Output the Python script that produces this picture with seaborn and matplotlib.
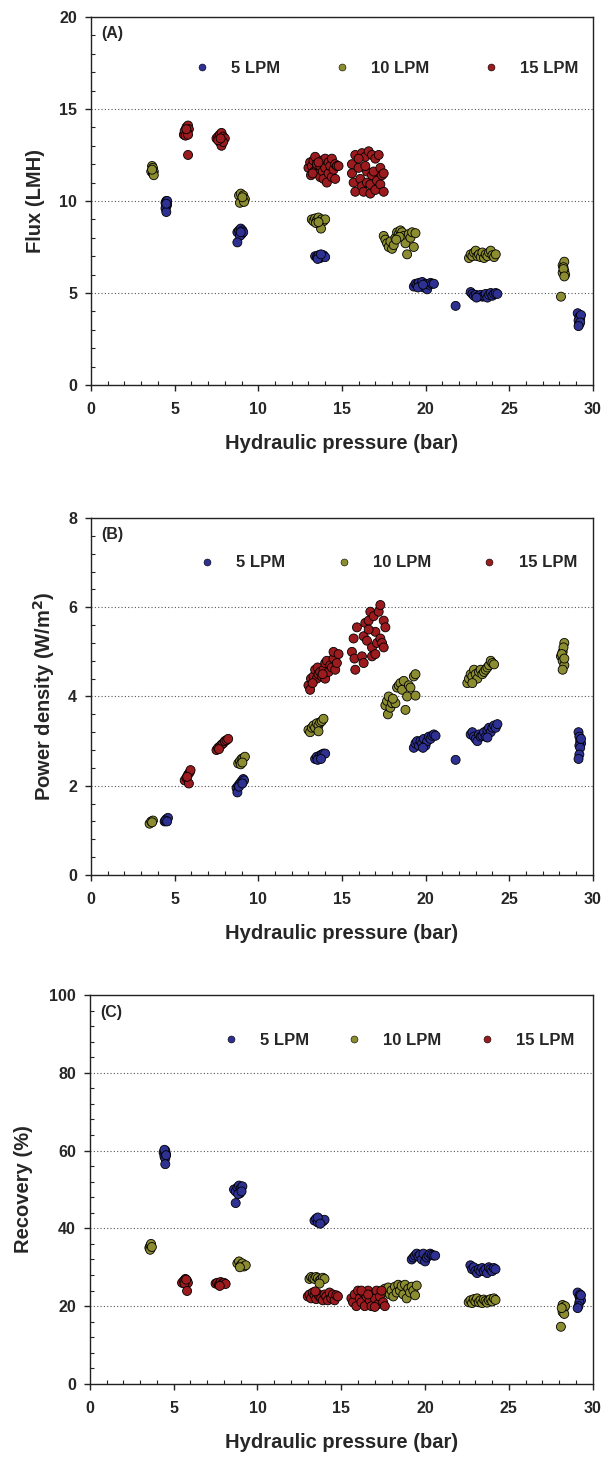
import matplotlib
matplotlib.use("Agg")
import matplotlib.pyplot as plt
import pandas as pd
import seaborn as sns
from matplotlib.ticker import MultipleLocator
from matplotlib.lines import Line2D

sns.set_style("ticks")
plt.rcParams["font.family"] = ["Liberation Sans", "DejaVu Sans"]
plt.rcParams["font.weight"] = "bold"

flow_labels = ["5 LPM", "10 LPM", "15 LPM"]
colors = ["#2E3192", "#8C8C30", "#9B1B1E"]

# ---------------- (A) Flux (LMH) vs hydraulic pressure ----------------
flux_5 = [(4.5, 10.0), (4.45, 9.9), (4.55, 9.8), (4.5, 9.7), (4.45, 9.6), (4.5, 9.4), (4.55, 10.0), (4.5, 9.85),
          (8.75, 8.3), (8.85, 8.4), (8.95, 8.5), (9.05, 8.4), (9.0, 8.2), (8.9, 8.1), (9.1, 8.3), (8.75, 7.75), (8.95, 8.3),
          (13.4, 7.0), (13.5, 6.95), (13.6, 7.05), (13.7, 6.9), (13.8, 7.0), (13.9, 7.05), (14.0, 6.95), (13.55, 6.85), (13.75, 7.1),
          (19.3, 5.35), (19.4, 5.5), (19.5, 5.45), (19.6, 5.55), (19.7, 5.4), (19.8, 5.6), (19.9, 5.3), (20.0, 5.5), (20.1, 5.2),
          (20.2, 5.45), (20.3, 5.55), (20.4, 5.5), (20.5, 5.5), (19.55, 5.3), (19.85, 5.45),
          (21.8, 4.3),
          (22.7, 5.05), (22.8, 4.95), (22.9, 4.85), (23.0, 4.9), (23.1, 4.8), (23.2, 4.85), (23.3, 4.9), (23.4, 4.8), (23.5, 4.85),
          (23.6, 4.95), (23.7, 4.75), (23.8, 4.9), (23.9, 5.0), (24.0, 4.85), (24.1, 4.95), (24.2, 5.0), (24.3, 4.95), (23.05, 4.75),
          (29.1, 3.9), (29.2, 3.7), (29.25, 3.6), (29.15, 3.5), (29.2, 3.3), (29.3, 3.8), (29.25, 3.4), (29.15, 3.2)]
flux_10 = [(3.65, 11.9), (3.7, 11.8), (3.75, 11.6), (3.6, 11.6), (3.7, 11.5), (3.75, 11.4), (3.65, 11.7),
           (8.85, 10.3), (8.95, 10.4), (9.1, 10.3), (9.2, 10.1), (9.0, 10.0), (8.9, 9.9), (9.15, 9.95), (9.05, 10.2),
           (13.2, 9.0), (13.3, 8.9), (13.4, 9.05), (13.5, 8.95), (13.6, 9.1), (13.7, 8.9), (13.8, 9.0), (13.9, 8.9), (14.0, 9.0),
           (13.75, 8.5), (13.45, 8.8), (13.6, 8.85),
           (17.5, 8.1), (17.6, 7.9), (17.7, 7.7), (17.8, 7.5), (17.9, 7.8), (18.0, 7.4), (18.1, 7.6), (18.2, 8.0), (18.3, 8.3),
           (18.4, 8.2), (18.5, 8.4), (18.6, 8.3), (18.7, 8.1), (18.8, 7.7), (18.9, 7.1), (19.0, 8.2), (19.1, 8.0), (19.2, 8.3),
           (19.3, 7.5), (19.4, 8.25), (18.45, 8.05), (18.25, 7.9),
           (22.6, 6.9), (22.7, 7.1), (22.8, 7.0), (22.9, 7.2), (23.0, 7.3), (23.1, 7.0), (23.2, 7.1), (23.3, 6.95), (23.4, 7.2),
           (23.5, 6.9), (23.6, 7.1), (23.7, 7.0), (23.8, 7.2), (23.9, 7.3), (24.0, 7.05), (24.1, 6.95), (24.2, 7.1),
           (28.2, 6.5), (28.3, 6.7), (28.25, 6.4), (28.3, 6.2), (28.2, 6.1), (28.35, 6.0), (28.25, 6.3), (28.3, 5.9), (28.1, 4.8)]
flux_15 = [(5.55, 13.6), (5.6, 13.8), (5.7, 14.0), (5.8, 14.1), (5.85, 13.9), (5.75, 13.7), (5.65, 13.55), (5.8, 13.6), (5.7, 13.9), (5.8, 12.5),
           (7.5, 13.4), (7.6, 13.5), (7.7, 13.6), (7.8, 13.7), (7.9, 13.5), (8.0, 13.4), (7.7, 13.2), (7.8, 13.0), (7.9, 13.2), (7.6, 13.3), (7.75, 13.4),
           (13.0, 11.8), (13.1, 12.1), (13.15, 11.4), (13.2, 11.9), (13.3, 12.2), (13.35, 11.6), (13.4, 12.4), (13.5, 11.8), (13.5, 12.0),
           (13.6, 11.5), (13.7, 11.3), (13.7, 11.9), (13.8, 12.2), (13.85, 11.6), (13.9, 11.2), (14.0, 11.8), (14.0, 12.3), (14.1, 11.0),
           (14.2, 11.5), (14.2, 12.1), (14.3, 11.9), (14.4, 11.3), (14.4, 12.3), (14.5, 11.7), (14.6, 12.0), (14.6, 11.2), (14.7, 11.9),
           (14.8, 11.9), (13.25, 11.5), (13.6, 12.1),
           (15.6, 12.0), (15.6, 11.5), (15.7, 11.0), (15.8, 12.5), (15.8, 10.5), (16.0, 11.8), (16.1, 11.2), (16.2, 12.6), (16.2, 10.8),
           (16.3, 10.5), (16.4, 12.4), (16.5, 11.6), (16.5, 11.0), (16.6, 12.7), (16.7, 10.4), (16.7, 10.9), (16.8, 12.5), (16.8, 11.4),
           (16.9, 11.6), (17.0, 12.3), (17.0, 10.6), (17.1, 11.1), (17.2, 12.5), (17.3, 11.8), (17.3, 10.9), (17.4, 11.4), (17.5, 10.5),
           (17.5, 11.5), (16.0, 12.3), (16.4, 11.9)]

# ---------------- (B) Power density (W/m2) ----------------
power_5 = [(4.4, 1.2), (4.5, 1.25), (4.6, 1.28), (4.45, 1.22), (4.55, 1.2),
           (8.7, 1.95), (8.75, 1.85), (8.8, 2.0), (8.9, 2.05), (9.0, 2.1), (9.1, 2.15), (9.15, 2.12), (8.85, 1.98), (9.05, 2.05),
           (13.4, 2.6), (13.5, 2.65), (13.6, 2.62), (13.7, 2.68), (13.8, 2.7), (13.9, 2.72), (14.0, 2.72), (13.55, 2.58), (13.75, 2.6),
           (19.3, 2.85), (19.4, 2.95), (19.5, 3.0), (19.6, 2.9), (19.7, 3.0), (19.8, 2.95), (19.9, 3.05), (20.0, 2.9), (20.1, 3.0),
           (20.2, 3.1), (20.3, 3.05), (20.4, 3.12), (20.5, 3.15), (20.6, 3.12), (19.85, 2.85),
           (21.8, 2.58),
           (22.7, 3.15), (22.8, 3.2), (22.9, 3.1), (23.0, 3.05), (23.1, 3.0), (23.2, 3.15), (23.3, 3.1), (23.4, 3.12), (23.5, 3.2),
           (23.6, 3.1), (23.7, 3.25), (23.8, 3.3), (23.9, 3.2), (24.0, 3.3), (24.1, 3.35), (24.2, 3.3), (24.3, 3.38), (23.7, 3.08),
           (29.15, 3.2), (29.2, 3.1), (29.25, 3.0), (29.3, 2.95), (29.2, 2.9), (29.25, 2.85), (29.2, 2.7), (29.15, 2.6), (29.3, 3.05)]
power_10 = [(3.5, 1.15), (3.6, 1.2), (3.7, 1.22), (3.65, 1.18),
            (8.8, 2.5), (8.9, 2.55), (9.0, 2.6), (9.1, 2.62), (9.2, 2.65), (8.95, 2.48), (9.05, 2.52),
            (13.0, 3.25), (13.1, 3.2), (13.2, 3.3), (13.3, 3.35), (13.4, 3.3), (13.5, 3.4), (13.6, 3.35), (13.7, 3.42), (13.8, 3.45),
            (13.9, 3.5), (13.6, 3.22),
            (17.6, 3.8), (17.7, 3.9), (17.75, 3.6), (17.8, 4.0), (17.9, 3.75), (18.0, 3.85), (18.2, 3.85), (18.3, 4.2), (18.4, 4.25),
            (18.5, 4.3), (18.6, 4.15), (18.7, 4.35), (18.8, 3.7), (18.9, 4.0), (19.0, 4.25), (19.1, 4.2), (19.3, 4.45), (19.4, 4.5),
            (19.4, 4.02), (18.05, 3.95),
            (22.5, 4.3), (22.6, 4.4), (22.7, 4.5), (22.8, 4.45), (22.9, 4.6), (23.0, 4.5), (23.1, 4.4), (23.2, 4.55), (23.3, 4.6),
            (23.4, 4.5), (23.5, 4.55), (23.6, 4.6), (23.7, 4.65), (23.8, 4.7), (23.9, 4.8), (24.0, 4.75), (24.1, 4.72), (22.8, 4.3),
            (28.1, 4.9), (28.2, 5.0), (28.3, 5.2), (28.25, 5.1), (28.2, 4.8), (28.3, 4.7), (28.2, 4.6), (28.15, 4.95), (28.3, 4.85)]
power_15 = [(5.6, 2.12), (5.7, 2.18), (5.8, 2.25), (5.9, 2.3), (5.95, 2.35), (5.85, 2.05), (5.75, 2.2),
            (7.5, 2.8), (7.6, 2.85), (7.7, 2.88), (7.8, 2.92), (7.9, 2.95), (8.0, 3.0), (8.1, 3.02), (8.2, 3.05), (7.65, 2.82),
            (13.0, 4.25), (13.1, 4.15), (13.15, 4.4), (13.3, 4.45), (13.4, 4.6), (13.5, 4.4), (13.55, 4.65), (13.6, 4.5), (13.7, 4.55),
            (13.8, 4.45), (13.9, 4.6), (14.0, 4.4), (14.0, 4.75), (14.1, 4.8), (14.2, 4.55), (14.3, 4.7), (14.4, 4.65), (14.5, 4.85),
            (14.5, 5.0), (14.6, 4.6), (14.7, 4.75), (14.8, 4.95), (13.25, 4.3), (13.85, 4.5),
            (15.6, 5.0), (15.7, 5.3), (15.75, 4.85), (15.8, 4.6), (15.9, 5.55), (16.2, 4.9), (16.3, 4.75), (16.3, 5.35), (16.4, 5.65),
            (16.5, 5.25), (16.6, 5.7), (16.7, 5.9), (16.8, 5.1), (16.8, 4.9), (16.9, 5.8), (17.0, 5.45), (17.1, 5.2), (17.2, 5.9),
            (17.3, 6.05), (17.3, 5.3), (17.4, 5.2), (17.5, 5.7), (17.5, 5.1), (17.6, 5.55), (16.6, 5.5), (17.0, 4.95)]

# ---------------- (C) Recovery (%) ----------------
recovery_5 = [(4.4, 59.5), (4.5, 60.0), (4.55, 59.0), (4.45, 58.5), (4.5, 58.0), (4.5, 56.5), (4.45, 60.2), (4.55, 58.8),
              (8.6, 50.0), (8.7, 49.5), (8.8, 50.5), (8.9, 51.0), (9.0, 50.3), (9.1, 50.8), (8.95, 49.0), (8.85, 48.8), (8.7, 46.5), (9.05, 49.5),
              (13.4, 42.0), (13.5, 42.5), (13.6, 41.5), (13.7, 42.3), (13.8, 42.0), (13.9, 41.8), (14.0, 42.2), (13.6, 42.8), (13.75, 41.2),
              (19.2, 32.0), (19.3, 32.5), (19.4, 33.0), (19.5, 33.5), (19.6, 32.8), (19.7, 33.2), (19.8, 32.0), (19.9, 33.5), (20.0, 31.5),
              (20.1, 32.5), (20.2, 33.0), (20.3, 33.5), (20.4, 33.2), (20.5, 33.0), (20.6, 33.0),
              (22.7, 30.5), (22.8, 29.5), (22.9, 30.0), (23.0, 29.0), (23.1, 28.5), (23.2, 29.5), (23.3, 29.0), (23.4, 29.8), (23.5, 29.0),
              (23.6, 29.5), (23.7, 28.5), (23.8, 30.0), (23.9, 29.5), (24.0, 29.0), (24.1, 29.8), (24.2, 29.5),
              (29.1, 23.5), (29.2, 22.5), (29.25, 22.0), (29.3, 21.5), (29.2, 21.0), (29.15, 20.0), (29.1, 19.5), (29.25, 23.0), (29.3, 22.8)]
recovery_10 = [(3.55, 35.0), (3.6, 35.5), (3.65, 36.0), (3.6, 34.5), (3.7, 35.2),
               (8.8, 31.0), (8.9, 31.5), (9.0, 30.5), (9.1, 31.0), (9.2, 30.2), (9.3, 30.5), (8.95, 30.0),
               (13.1, 27.0), (13.2, 27.5), (13.3, 27.2), (13.4, 27.0), (13.5, 27.5), (13.6, 27.2), (13.7, 26.5), (13.8, 27.0),
               (13.9, 27.3), (14.0, 27.0), (13.7, 25.8),
               (17.6, 24.5), (17.7, 23.5), (17.8, 24.8), (17.9, 23.0), (18.0, 24.0), (18.1, 22.5), (18.2, 25.0), (18.3, 23.5),
               (18.4, 25.5), (18.5, 24.0), (18.6, 25.2), (18.7, 23.0), (18.8, 25.5), (18.9, 22.0), (19.0, 24.5), (19.1, 23.5),
               (19.2, 25.0), (19.3, 24.0), (19.4, 22.8), (19.5, 25.3),
               (22.6, 21.0), (22.7, 21.5), (22.8, 20.8), (22.9, 21.8), (23.0, 21.2), (23.1, 22.0), (23.2, 21.0), (23.3, 21.5),
               (23.4, 20.8), (23.5, 21.7), (23.6, 21.3), (23.7, 20.9), (23.8, 21.5), (23.9, 21.8), (24.0, 21.2), (24.1, 22.0), (24.2, 21.6),
               (28.2, 20.3), (28.3, 19.8), (28.25, 19.0), (28.2, 18.5), (28.3, 18.0), (28.35, 20.0), (28.15, 19.5), (28.1, 14.7)]
recovery_15 = [(5.5, 26.0), (5.6, 26.5), (5.7, 27.0), (5.8, 26.5), (5.85, 26.0), (5.65, 25.8), (5.75, 26.8), (5.8, 23.9),
               (7.5, 25.8), (7.6, 26.0), (7.7, 25.5), (7.8, 26.2), (7.9, 25.8), (8.0, 26.0), (8.1, 25.7), (7.75, 25.2),
               (13.0, 22.5), (13.1, 23.0), (13.2, 22.0), (13.3, 23.5), (13.4, 22.8), (13.5, 21.8), (13.6, 23.2), (13.7, 22.5),
               (13.8, 22.0), (13.9, 21.5), (14.0, 23.0), (14.1, 22.5), (14.2, 21.5), (14.3, 23.5), (14.4, 22.0), (14.5, 23.0),
               (14.6, 21.5), (14.7, 22.8), (14.8, 22.5), (13.45, 23.8),
               (15.6, 22.0), (15.7, 21.0), (15.8, 23.0), (15.9, 20.0), (16.0, 24.0), (16.1, 22.0), (16.2, 21.0), (16.3, 23.5),
               (16.4, 20.0), (16.5, 22.5), (16.6, 24.0), (16.7, 21.5), (16.8, 20.0), (16.9, 23.0), (17.0, 22.0), (17.1, 24.0),
               (17.2, 20.5), (17.3, 22.5), (17.4, 24.0), (17.5, 21.0), (17.6, 20.0), (16.2, 24.0), (16.6, 23.0), (17.0, 19.8)]

panel_letters = ["(A)", "(B)", "(C)"]
y_labels = ["Flux (LMH)", "Power density (W/m$^{\\mathbf{2}}$)", "Recovery (%)"]
x_label = "Hydraulic pressure (bar)"


def make_df(series):
    rows = []
    for lab, pts in zip(flow_labels, series):
        for x, y in pts:
            rows.append({"pressure": x, "value": y, "flow": lab})
    return pd.DataFrame(rows)


panels = [
    dict(series=[flux_5, flux_10, flux_15], ylim=(0, 20), major=5, minor=1,
         rect=[0.151, 0.7363, 0.832, 0.2521], ylab_x=-0.092, leg_x=0.2046, leg_y=0.859, colsp=3.2),
    dict(series=[power_5, power_10, power_15], ylim=(0, 8), major=2, minor=0.4,
         rect=[0.151, 0.4007, 0.832, 0.2445], ylab_x=-0.068, leg_x=0.2145, leg_y=0.874, colsp=3.0),
    dict(series=[recovery_5, recovery_10, recovery_15], ylim=(0, 100), major=20, minor=4,
         rect=[0.149, 0.0521, 0.834, 0.2664], ylab_x=-0.113, leg_x=0.264, leg_y=0.884, colsp=2.2),
]

fig = plt.figure(figsize=(6.03, 14.6), dpi=100)
fig.patch.set_facecolor("white")

for i, p in enumerate(panels):
    ax = fig.add_axes(p["rect"])
    df = make_df(p["series"])
    sns.scatterplot(data=df, x="pressure", y="value", hue="flow", hue_order=flow_labels,
                    palette=colors, s=42, edgecolor="black", linewidth=0.6, legend=False,
                    ax=ax, zorder=3)
    ax.set_xlim(0, 30)
    ax.set_ylim(*p["ylim"])
    ax.xaxis.set_major_locator(MultipleLocator(5))
    ax.xaxis.set_minor_locator(MultipleLocator(1))
    ax.yaxis.set_major_locator(MultipleLocator(p["major"]))
    ax.yaxis.set_minor_locator(MultipleLocator(p["minor"]))
    ax.tick_params(which="major", direction="out", length=4, width=1, color="#222222",
                   labelsize=11.5, pad=6)
    ax.tick_params(which="minor", direction="in", length=3, width=0.8, color="#222222")
    ax.tick_params(axis="x", which="major", pad=8)
    for lab in ax.get_xticklabels() + ax.get_yticklabels():
        lab.set_fontweight("bold")
    for sp in ax.spines.values():
        sp.set_visible(True)
        sp.set_color("#222222")
        sp.set_linewidth(1.0)
    ax.yaxis.grid(True, which="major", linestyle=(0, (1, 2)), color="#555555", linewidth=0.8)
    ax.set_axisbelow(True)
    ax.set_xlabel(x_label, fontsize=14.5, fontweight="bold")
    ax.set_ylabel(y_labels[i], fontsize=14.5, fontweight="bold")
    ax_h_px = p["rect"][3] * 1460
    ax.xaxis.set_label_coords(0.5, -49 / ax_h_px)
    ax.yaxis.set_label_coords(p["ylab_x"], 0.5)
    ax.text(0.02, 0.955, panel_letters[i], transform=ax.transAxes, fontsize=11.5,
            fontweight="bold", va="center", ha="left")
    handles = [Line2D([], [], marker="o", linestyle="", markerfacecolor=c,
                      markeredgecolor="black", markeredgewidth=0.4, markersize=5)
               for c in colors]
    ax.legend(handles, flow_labels, ncol=3, loc="center left",
              bbox_to_anchor=(p["leg_x"], p["leg_y"]), frameon=False,
              prop={"weight": "bold", "size": 12}, handlelength=1.0,
              handletextpad=1.25, columnspacing=p["colsp"], borderpad=0,
              borderaxespad=0)

fig.savefig("out.png", dpi=100, facecolor="white")
